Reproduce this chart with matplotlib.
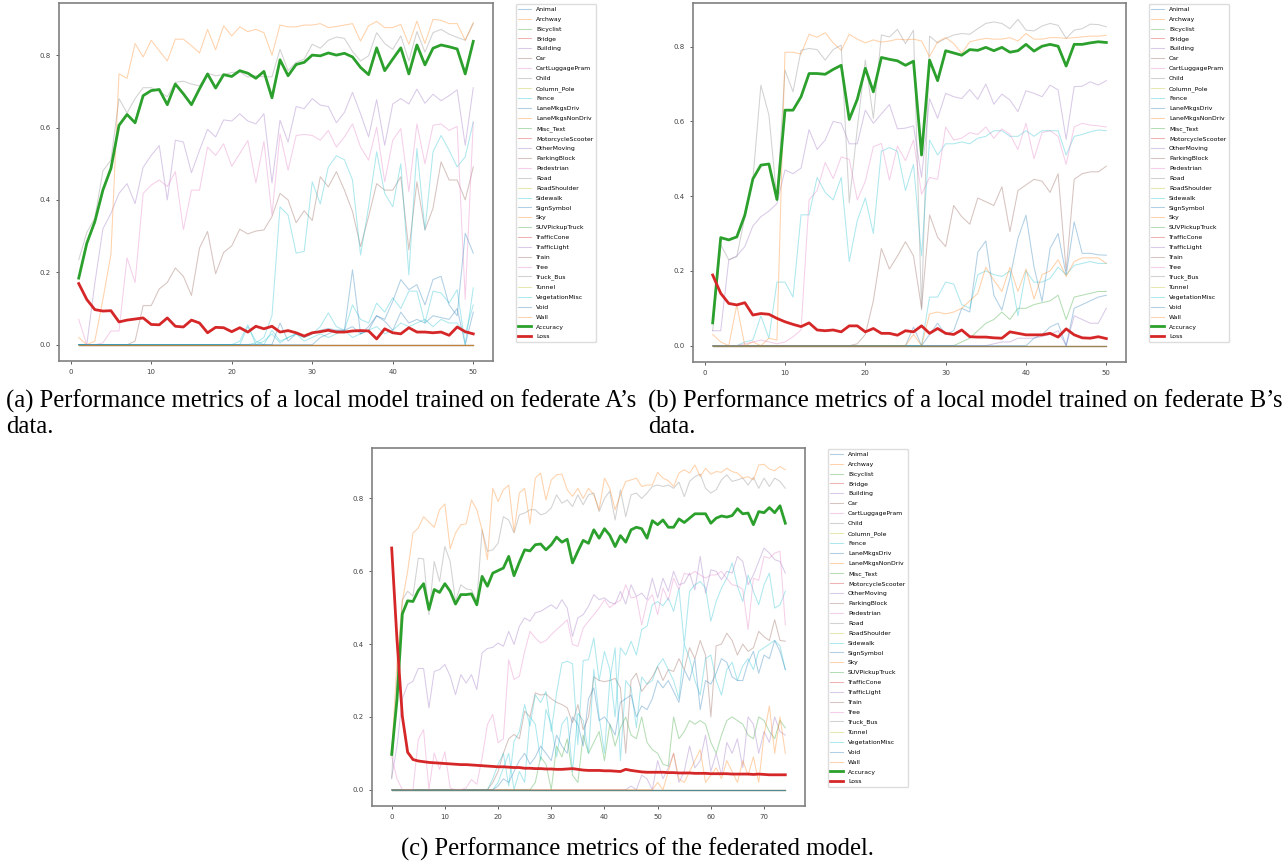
import matplotlib.pyplot as plt
import numpy as np

classes = ['Animal', 'Archway', 'Bicyclist', 'Bridge', 'Building', 'Car',
           'CartLuggagePram', 'Child', 'Column_Pole', 'Fence', 'LaneMkgsDriv',
           'LaneMkgsNonDriv', 'Misc_Text', 'MotorcycleScooter', 'OtherMoving',
           'ParkingBlock', 'Pedestrian', 'Road', 'RoadShoulder', 'Sidewalk',
           'SignSymbol', 'Sky', 'SUVPickupTruck', 'TrafficCone', 'TrafficLight',
           'Train', 'Tree', 'Truck_Bus', 'Tunnel', 'VegetationMisc', 'Void', 'Wall']

# ---- (a) local model, federate A ----
epochs_a = list(range(1, 51))
a_acc = [0.184, 0.28, 0.34, 0.427, 0.487, 0.606, 0.636, 0.613, 0.688, 0.702,
         0.705, 0.663, 0.72, 0.693, 0.663, 0.707, 0.748, 0.709, 0.746, 0.741,
         0.757, 0.75, 0.736, 0.755, 0.682, 0.787, 0.743, 0.774, 0.78, 0.8,
         0.798, 0.806, 0.8, 0.805, 0.795, 0.766, 0.746, 0.82, 0.757, 0.789,
         0.82, 0.748, 0.828, 0.773, 0.819, 0.828, 0.823, 0.817, 0.748, 0.838]
a_loss = [0.169, 0.125, 0.097, 0.093, 0.094, 0.063, 0.068, 0.071, 0.074, 0.056,
          0.055, 0.074, 0.051, 0.049, 0.068, 0.06, 0.033, 0.048, 0.047, 0.036,
          0.047, 0.035, 0.051, 0.044, 0.051, 0.035, 0.039, 0.033, 0.024, 0.033,
          0.036, 0.04, 0.035, 0.035, 0.038, 0.039, 0.038, 0.016, 0.044, 0.033,
          0.03, 0.047, 0.035, 0.035, 0.033, 0.035, 0.026, 0.049, 0.036, 0.03]
a_sky = [0.02, 0.0, 0.01, 0.125, 0.25, 0.748, 0.736, 0.832, 0.795, 0.841,
         0.812, 0.784, 0.844, 0.844, 0.826, 0.806, 0.871, 0.815, 0.881, 0.853,
         0.878, 0.865, 0.871, 0.862, 0.8, 0.883, 0.878, 0.878, 0.883, 0.883,
         0.887, 0.876, 0.879, 0.883, 0.887, 0.839, 0.881, 0.893, 0.876, 0.876,
         0.885, 0.83, 0.894, 0.832, 0.899, 0.896, 0.887, 0.887, 0.841, 0.89]
a_road = [0.235, 0.31, 0.35, 0.48, 0.51, 0.68, 0.64, 0.68, 0.71, 0.71,
          0.70, 0.685, 0.725, 0.728, 0.72, 0.715, 0.75, 0.743, 0.746, 0.752,
          0.754, 0.739, 0.743, 0.74, 0.74, 0.816, 0.757, 0.78, 0.789, 0.83,
          0.819, 0.841, 0.85, 0.846, 0.81, 0.784, 0.798, 0.862, 0.832, 0.816,
          0.853, 0.784, 0.865, 0.808, 0.862, 0.871, 0.858, 0.849, 0.841, 0.887]
a_building = [0.0, 0.0, 0.17, 0.32, 0.363, 0.418, 0.445, 0.39, 0.49, 0.523,
              0.55, 0.4, 0.565, 0.56, 0.475, 0.537, 0.595, 0.574, 0.621, 0.618,
              0.638, 0.618, 0.61, 0.638, 0.447, 0.62, 0.56, 0.658, 0.652, 0.68,
              0.662, 0.658, 0.613, 0.642, 0.697, 0.638, 0.574, 0.677, 0.551, 0.665,
              0.68, 0.665, 0.706, 0.667, 0.692, 0.674, 0.688, 0.704, 0.551, 0.71]
a_tree = [0.07, 0.0, 0.0, 0.005, 0.038, 0.038, 0.24, 0.172, 0.418, 0.441,
          0.455, 0.437, 0.478, 0.318, 0.427, 0.427, 0.546, 0.523, 0.555, 0.493,
          0.528, 0.564, 0.447, 0.562, 0.358, 0.583, 0.482, 0.578, 0.581, 0.578,
          0.565, 0.592, 0.546, 0.574, 0.61, 0.546, 0.51, 0.601, 0.45, 0.565,
          0.597, 0.423, 0.61, 0.5, 0.606, 0.61, 0.592, 0.603, 0.125, 0.615]
a_car = [0.0, 0.0, 0.0, 0.0, 0.0, 0.0, 0.0, 0.01, 0.108, 0.108,
         0.154, 0.172, 0.212, 0.189, 0.136, 0.267, 0.313, 0.196, 0.255, 0.273,
         0.319, 0.306, 0.314, 0.317, 0.354, 0.418, 0.4, 0.337, 0.37, 0.343,
         0.464, 0.436, 0.478, 0.427, 0.368, 0.271, 0.354, 0.445, 0.427, 0.427,
         0.464, 0.262, 0.45, 0.317, 0.377, 0.505, 0.455, 0.455, 0.4, 0.491]
a_sidewalk = [0.0] * 22 + [0.005, 0.02, 0.08, 0.381, 0.358, 0.253, 0.258, 0.45,
                           0.389, 0.491, 0.522, 0.511, 0.455, 0.248, 0.381, 0.533,
                           0.418, 0.381, 0.5, 0.193, 0.542, 0.317, 0.533, 0.578,
                           0.537, 0.491, 0.519, 0.615]
a_void = [0.0] * 30 + [0.02, 0.03, 0.04, 0.04, 0.207, 0.03, 0.05, 0.08, 0.07, 0.12,
                       0.18, 0.152, 0.166, 0.11, 0.18, 0.189, 0.11, 0.08, 0.308, 0.253]
a_veg = [0.0] * 20 + [0.01, 0.055, 0.0, 0.01, 0.03, 0.005, 0.02, 0.03, 0.02, 0.03,
                      0.05, 0.088, 0.05, 0.04, 0.11, 0.07, 0.06, 0.115, 0.09, 0.13,
                      0.1, 0.148, 0.148, 0.06, 0.148, 0.143, 0.115, 0.152, 0.0, 0.157]
a_sign = [0.0] * 25 + [0.06, 0.01, 0.03, 0.02, 0.03, 0.04, 0.045, 0.04, 0.04, 0.05,
                       0.03, 0.04, 0.08, 0.065, 0.04, 0.09, 0.06, 0.07, 0.06, 0.08,
                       0.075, 0.07, 0.1, 0.0, 0.09]
a_fence = [0.0] * 20 + [0.0, 0.05, 0.01, 0.0, 0.04, 0.01, 0.02, 0.03, 0.01, 0.02,
                        0.03, 0.02, 0.03, 0.04, 0.02, 0.03, 0.04, 0.05, 0.03, 0.04,
                        0.06, 0.05, 0.06, 0.07, 0.05, 0.07, 0.06, 0.06, 0.03, 0.11]

# ---- (b) local model, federate B ----
epochs_b = list(range(1, 51))
b_acc = [0.061, 0.289, 0.283, 0.291, 0.349, 0.446, 0.483, 0.486, 0.391, 0.63,
         0.63, 0.666, 0.728, 0.728, 0.726, 0.739, 0.75, 0.605, 0.659, 0.742,
         0.679, 0.771, 0.766, 0.762, 0.75, 0.761, 0.51, 0.764, 0.709, 0.789,
         0.783, 0.777, 0.792, 0.79, 0.798, 0.789, 0.798, 0.785, 0.789, 0.806,
         0.788, 0.801, 0.806, 0.801, 0.748, 0.806, 0.806, 0.81, 0.813, 0.811]
b_loss = [0.189, 0.14, 0.113, 0.109, 0.115, 0.082, 0.086, 0.084, 0.073, 0.064,
          0.057, 0.051, 0.061, 0.042, 0.04, 0.042, 0.037, 0.053, 0.053, 0.037,
          0.046, 0.033, 0.033, 0.028, 0.04, 0.037, 0.053, 0.033, 0.046, 0.033,
          0.03, 0.042, 0.024, 0.023, 0.023, 0.021, 0.02, 0.037, 0.033, 0.029,
          0.029, 0.029, 0.033, 0.023, 0.045, 0.029, 0.021, 0.02, 0.024, 0.019]
b_road = [0.04, 0.27, 0.23, 0.238, 0.345, 0.443, 0.697, 0.617, 0.39, 0.737,
          0.679, 0.79, 0.795, 0.792, 0.764, 0.792, 0.804, 0.382, 0.581, 0.764,
          0.608, 0.831, 0.826, 0.846, 0.808, 0.844, 0.095, 0.828, 0.81, 0.822,
          0.831, 0.835, 0.833, 0.848, 0.862, 0.866, 0.862, 0.848, 0.873, 0.844,
          0.842, 0.855, 0.862, 0.857, 0.822, 0.844, 0.848, 0.86, 0.859, 0.853]
b_sky = [0.03, 0.01, 0.0, 0.109, 0.0, 0.01, 0.0, 0.02, 0.015, 0.785,
         0.785, 0.78, 0.833, 0.825, 0.837, 0.81, 0.79, 0.833, 0.82, 0.81,
         0.818, 0.812, 0.815, 0.82, 0.818, 0.82, 0.815, 0.773, 0.813, 0.824,
         0.808, 0.782, 0.813, 0.818, 0.822, 0.82, 0.82, 0.824, 0.815, 0.835,
         0.82, 0.82, 0.824, 0.824, 0.822, 0.824, 0.826, 0.828, 0.828, 0.83]
b_building = [0.04, 0.04, 0.229, 0.24, 0.265, 0.32, 0.345, 0.36, 0.38, 0.47,
              0.46, 0.475, 0.578, 0.525, 0.55, 0.6, 0.595, 0.54, 0.54, 0.63,
              0.595, 0.62, 0.645, 0.58, 0.582, 0.588, 0.45, 0.661, 0.608, 0.675,
              0.666, 0.661, 0.685, 0.659, 0.7, 0.646, 0.673, 0.657, 0.626, 0.682,
              0.675, 0.666, 0.697, 0.684, 0.552, 0.693, 0.694, 0.706, 0.697, 0.709]
b_tree = [0.0, 0.0, 0.0, 0.0, 0.005, 0.01, 0.015, 0.01, 0.005, 0.01,
          0.024, 0.042, 0.39, 0.415, 0.49, 0.447, 0.505, 0.498, 0.39, 0.44,
          0.532, 0.541, 0.443, 0.534, 0.495, 0.55, 0.405, 0.45, 0.445, 0.585,
          0.55, 0.555, 0.57, 0.565, 0.585, 0.555, 0.58, 0.565, 0.525, 0.595,
          0.5, 0.57, 0.575, 0.56, 0.485, 0.585, 0.595, 0.59, 0.588, 0.585]
b_sidewalk = [0.0, 0.0, 0.0, 0.0, 0.01, 0.015, 0.08, 0.02, 0.17, 0.17,
              0.13, 0.35, 0.35, 0.45, 0.41, 0.39, 0.45, 0.225, 0.335, 0.395,
              0.3, 0.52, 0.53, 0.52, 0.415, 0.485, 0.24, 0.55, 0.51, 0.54,
              0.54, 0.545, 0.54, 0.555, 0.56, 0.575, 0.575, 0.56, 0.56, 0.575,
              0.56, 0.575, 0.575, 0.575, 0.51, 0.56, 0.565, 0.572, 0.577, 0.575]
b_car = [0.0] * 18 + [0.005, 0.03, 0.12, 0.26, 0.205, 0.24, 0.278, 0.24, 0.1, 0.35,
                      0.29, 0.265, 0.375, 0.345, 0.325, 0.395, 0.385, 0.375, 0.425, 0.305,
                      0.415, 0.43, 0.445, 0.44, 0.41, 0.46, 0.2, 0.445, 0.46, 0.465,
                      0.465, 0.48]
b_lanedriv = [0.0] * 25 + [0.05, 0.0, 0.03, 0.06, 0.03, 0.04, 0.1, 0.09, 0.25, 0.28,
                           0.135, 0.095, 0.18, 0.287, 0.349, 0.211, 0.118, 0.26, 0.3, 0.189,
                           0.331, 0.247, 0.247, 0.243, 0.242]
b_wall = [0.0] * 25 + [0.03, 0.0, 0.085, 0.09, 0.085, 0.09, 0.1, 0.12, 0.14, 0.21,
                       0.175, 0.145, 0.21, 0.145, 0.205, 0.125, 0.19, 0.2, 0.23, 0.185,
                       0.225, 0.235, 0.235, 0.235, 0.22]
b_veg = [0.0] * 26 + [0.0, 0.13, 0.13, 0.17, 0.165, 0.11, 0.1, 0.19, 0.2, 0.19,
                      0.185, 0.2, 0.08, 0.2, 0.17, 0.17, 0.18, 0.21, 0.19, 0.215,
                      0.22, 0.225, 0.22, 0.22]
b_bicyclist = [0.0] * 30 + [0.0, 0.01, 0.02, 0.04, 0.06, 0.07, 0.09, 0.07, 0.1, 0.1,
                            0.11, 0.115, 0.12, 0.135, 0.07, 0.13, 0.135, 0.14, 0.145, 0.145]
b_void = [0.0] * 40 + [0.02, 0.03, 0.05, 0.06, 0.0, 0.1, 0.11, 0.12, 0.13, 0.135]
b_otherm = [0.0] * 35 + [0.005, 0.01, 0.01, 0.02, 0.02, 0.02, 0.025, 0.03, 0.04, 0.0,
                         0.08, 0.07, 0.06, 0.06, 0.1]

# ---- (c) federated model ----
epochs_c = list(range(0, 75))
c_acc = [0.097, 0.248, 0.483, 0.519, 0.517, 0.547, 0.566, 0.495, 0.55, 0.542,
         0.566, 0.545, 0.51, 0.536, 0.536, 0.538, 0.508, 0.586, 0.559, 0.595,
         0.602, 0.609, 0.641, 0.588, 0.625, 0.659, 0.656, 0.673, 0.675, 0.659,
         0.673, 0.694, 0.68, 0.688, 0.623, 0.655, 0.685, 0.677, 0.714, 0.691,
         0.717, 0.699, 0.668, 0.698, 0.68, 0.714, 0.721, 0.717, 0.691, 0.739,
         0.728, 0.741, 0.721, 0.721, 0.744, 0.734, 0.746, 0.758, 0.758, 0.758,
         0.732, 0.746, 0.752, 0.749, 0.753, 0.772, 0.758, 0.76, 0.728, 0.764,
         0.761, 0.775, 0.761, 0.78, 0.732]
c_loss = [0.664, 0.412, 0.202, 0.103, 0.083, 0.079, 0.077, 0.075, 0.074, 0.073,
          0.072, 0.071, 0.07, 0.069, 0.069, 0.068, 0.067, 0.066, 0.065, 0.064,
          0.063, 0.063, 0.062, 0.061, 0.061, 0.059, 0.059, 0.058, 0.058, 0.057,
          0.057, 0.056, 0.056, 0.057, 0.058, 0.056, 0.054, 0.053, 0.053, 0.053,
          0.052, 0.052, 0.051, 0.05, 0.056, 0.053, 0.051, 0.049, 0.048, 0.048,
          0.048, 0.048, 0.047, 0.047, 0.046, 0.046, 0.046, 0.045, 0.045, 0.045,
          0.044, 0.044, 0.044, 0.044, 0.043, 0.043, 0.043, 0.043, 0.042, 0.043,
          0.042, 0.041, 0.041, 0.041, 0.041]
c_sky = [0.1, 0.35, 0.517, 0.6, 0.705, 0.719, 0.75, 0.735, 0.721, 0.769,
         0.785, 0.662, 0.705, 0.728, 0.73, 0.796, 0.769, 0.714, 0.632, 0.828,
         0.792, 0.824, 0.837, 0.708, 0.815, 0.828, 0.73, 0.856, 0.87, 0.796,
         0.851, 0.865, 0.867, 0.824, 0.806, 0.828, 0.8, 0.828, 0.81, 0.769,
         0.856, 0.828, 0.769, 0.81, 0.847, 0.851, 0.856, 0.833, 0.837, 0.837,
         0.872, 0.856, 0.849, 0.833, 0.87, 0.879, 0.87, 0.892, 0.86, 0.883,
         0.867, 0.874, 0.872, 0.883, 0.874, 0.87, 0.856, 0.86, 0.851, 0.892,
         0.894, 0.881, 0.876, 0.888, 0.879]
c_road = [0.03, 0.3, 0.522, 0.545, 0.532, 0.636, 0.634, 0.481, 0.627, 0.572,
          0.668, 0.627, 0.518, 0.563, 0.552, 0.549, 0.518, 0.714, 0.655, 0.659,
          0.677, 0.75, 0.741, 0.705, 0.755, 0.76, 0.769, 0.769, 0.755, 0.76,
          0.774, 0.81, 0.787, 0.796, 0.778, 0.81, 0.783, 0.81, 0.815, 0.764,
          0.8, 0.82, 0.741, 0.824, 0.75, 0.81, 0.815, 0.8, 0.815, 0.833,
          0.837, 0.833, 0.837, 0.828, 0.845, 0.805, 0.847, 0.86, 0.867, 0.828,
          0.815, 0.824, 0.851, 0.865, 0.847, 0.851, 0.856, 0.837, 0.858, 0.828,
          0.856, 0.833, 0.856, 0.847, 0.828]
c_building = [0.033, 0.12, 0.25, 0.289, 0.298, 0.333, 0.333, 0.225, 0.325, 0.33,
              0.344, 0.312, 0.261, 0.316, 0.293, 0.316, 0.275, 0.376, 0.388, 0.391,
              0.403, 0.394, 0.435, 0.399, 0.449, 0.472, 0.463, 0.486, 0.49, 0.499,
              0.508, 0.497, 0.522, 0.499, 0.421, 0.472, 0.481, 0.504, 0.536, 0.522,
              0.527, 0.515, 0.51, 0.545, 0.51, 0.563, 0.531, 0.54, 0.522, 0.581,
              0.527, 0.581, 0.545, 0.6, 0.563, 0.568, 0.595, 0.549, 0.641, 0.54,
              0.604, 0.6, 0.577, 0.6, 0.595, 0.641, 0.627, 0.563, 0.59, 0.627,
              0.664, 0.65, 0.632, 0.627, 0.595]
c_tree = [0.092, 0.03, 0.0, 0.0, 0.0, 0.138, 0.165, 0.0, 0.101, 0.056,
          0.104, 0.005, 0.0, 0.0, 0.005, 0.028, 0.015, 0.088, 0.179, 0.207,
          0.129, 0.14, 0.357, 0.303, 0.312, 0.38, 0.435, 0.417, 0.403, 0.41,
          0.426, 0.44, 0.453, 0.467, 0.399, 0.394, 0.444, 0.463, 0.481, 0.499,
          0.522, 0.5, 0.513, 0.52, 0.563, 0.527, 0.53, 0.453, 0.517, 0.536,
          0.481, 0.554, 0.52, 0.581, 0.55, 0.595, 0.59, 0.6, 0.59, 0.581,
          0.59, 0.59, 0.6, 0.58, 0.563, 0.56, 0.55, 0.44, 0.581, 0.575,
          0.641, 0.636, 0.65, 0.655, 0.453]
c_sidewalk = [0.0] * 19 + [0.03, 0.07, 0.1, 0.01, 0.133, 0.16, 0.234, 0.175, 0.261, 0.239,
                           0.27, 0.16, 0.266, 0.348, 0.353, 0.346, 0.124, 0.355, 0.357, 0.417,
                           0.3, 0.38, 0.33, 0.2, 0.39, 0.37, 0.408, 0.37, 0.44, 0.449,
                           0.508, 0.517, 0.505, 0.527, 0.49, 0.554, 0.399, 0.545, 0.563, 0.572,
                           0.554, 0.463, 0.517, 0.554, 0.581, 0.623, 0.559, 0.517, 0.59, 0.545,
                           0.508, 0.563, 0.595, 0.499, 0.508, 0.545]
c_fence = [0.0] * 20 + [0.02, 0.06, 0.1, 0.0, 0.05, 0.02, 0.2, 0.18, 0.08, 0.22,
                        0.18, 0.09, 0.18, 0.2, 0.05, 0.21, 0.19, 0.1, 0.33, 0.2,
                        0.1, 0.3, 0.39, 0.08, 0.3, 0.28, 0.17, 0.31, 0.29, 0.3,
                        0.34, 0.36, 0.33, 0.3, 0.25, 0.4, 0.36, 0.3, 0.26, 0.36,
                        0.37, 0.3, 0.26, 0.33, 0.35, 0.3, 0.34, 0.36, 0.33, 0.38,
                        0.39, 0.4, 0.41, 0.395, 0.33]
c_lanedriv = [0.0] * 20 + [0.01, 0.03, 0.02, 0.05, 0.08, 0.1, 0.07, 0.09, 0.12, 0.1,
                           0.08, 0.15, 0.12, 0.1, 0.2, 0.18, 0.12, 0.25, 0.28, 0.19,
                           0.2, 0.18, 0.15, 0.24, 0.25, 0.26, 0.2, 0.23, 0.22, 0.25,
                           0.3, 0.28, 0.3, 0.27, 0.24, 0.33, 0.3, 0.36, 0.22, 0.3,
                           0.29, 0.32, 0.36, 0.35, 0.31, 0.3, 0.3, 0.35, 0.38, 0.32,
                           0.37, 0.36, 0.41, 0.38, 0.33]
c_car = [0.0] * 19 + [0.02, 0.05, 0.1, 0.14, 0.152, 0.14, 0.216, 0.2, 0.266, 0.26,
                      0.263, 0.25, 0.24, 0.234, 0.225, 0.184, 0.234, 0.165, 0.2, 0.31,
                      0.3, 0.297, 0.3, 0.306, 0.28, 0.1, 0.3, 0.32, 0.27, 0.29,
                      0.31, 0.338, 0.3, 0.33, 0.325, 0.36, 0.33, 0.39, 0.36, 0.41,
                      0.37, 0.2, 0.395, 0.4, 0.43, 0.41, 0.37, 0.4, 0.38, 0.39,
                      0.435, 0.42, 0.41, 0.467, 0.41, 0.408]
c_bicyclist = [0.0] * 27 + [0.02, 0.09, 0.07, 0.0, 0.12, 0.09, 0.14, 0.04, 0.02, 0.15,
                            0.1, 0.13, 0.16, 0.08, 0.18, 0.12, 0.17, 0.2, 0.15, 0.14,
                            0.2, 0.13, 0.11, 0.1, 0.07, 0.065, 0.2, 0.14, 0.16, 0.19,
                            0.18, 0.19, 0.18, 0.13, 0.1, 0.15, 0.19, 0.2, 0.19, 0.18,
                            0.15, 0.14, 0.2, 0.19, 0.16, 0.14, 0.19, 0.17]
c_wall = [0.0] * 50 + [0.02, 0.0, 0.05, 0.1, 0.03, 0.02, 0.05, 0.08, 0.11, 0.02,
                       0.04, 0.06, 0.03, 0.08, 0.05, 0.02, 0.08, 0.04, 0.09, 0.02,
                       0.15, 0.23, 0.1, 0.2, 0.1]
c_otherm = [0.0] * 45 + [0.01, 0.0, 0.04, 0.03, 0.0, 0.08, 0.03, 0.06, 0.1, 0.02,
                         0.05, 0.12, 0.06, 0.08, 0.15, 0.05, 0.1, 0.04, 0.13, 0.1,
                         0.14, 0.06, 0.2, 0.18, 0.1, 0.16, 0.13, 0.2, 0.16, 0.15]

series_a = {'Sky': a_sky, 'Road': a_road, 'Building': a_building, 'Tree': a_tree,
            'Car': a_car, 'Sidewalk': a_sidewalk, 'Void': a_void,
            'VegetationMisc': a_veg, 'SignSymbol': a_sign, 'Fence': a_fence}
series_b = {'Sky': b_sky, 'Road': b_road, 'Building': b_building, 'Tree': b_tree,
            'Car': b_car, 'Sidewalk': b_sidewalk, 'LaneMkgsDriv': b_lanedriv,
            'Wall': b_wall, 'VegetationMisc': b_veg, 'Bicyclist': b_bicyclist,
            'Void': b_void, 'OtherMoving': b_otherm}
series_c = {'Sky': c_sky, 'Road': c_road, 'Building': c_building, 'Tree': c_tree,
            'Sidewalk': c_sidewalk, 'Fence': c_fence, 'LaneMkgsDriv': c_lanedriv,
            'Car': c_car, 'Bicyclist': c_bicyclist, 'Wall': c_wall,
            'OtherMoving': c_otherm}

W, H = 1283, 864
fig = plt.figure(figsize=(W / 100, H / 100), dpi=100)


def draw_panel(rect, x, series, acc, loss):
    ax = fig.add_axes(rect)
    zeros = [0.0] * len(x)
    for name in classes:
        ax.plot(x, series.get(name, zeros), lw=0.75, alpha=0.35, label=name)
    ax.plot(x, acc, color='tab:green', lw=2, label='Accuracy')
    ax.plot(x, loss, color='tab:red', lw=2, label='Loss')
    ax.set_yticks([0.0, 0.2, 0.4, 0.6, 0.8])
    ax.tick_params(labelsize=5, length=2.5, width=0.6, colors='#444444')
    for s in ax.spines.values():
        s.set_color('#808080')
        s.set_linewidth(1.2)
    ax.legend(loc='upper left', bbox_to_anchor=(1.05, 1.0), borderaxespad=0.2,
              fontsize=4.4, labelspacing=0.75, handlelength=2.1, handletextpad=0.8,
              borderpad=0.4, framealpha=1, edgecolor='#dddddd')
    return ax


def px_rect(x0, y0, x1, y1):
    return [x0 / W, 1 - y1 / H, (x1 - x0) / W, (y1 - y0) / H]


draw_panel(px_rect(59, 3, 493, 361), epochs_a, series_a, a_acc, a_loss)
draw_panel(px_rect(693, 3, 1126, 362), epochs_b, series_b, b_acc, b_loss)
draw_panel(px_rect(372, 448, 805, 806), epochs_c, series_c, c_acc, c_loss)

cap = dict(family='Liberation Serif', fontsize=17.7, va='center', ha='left')
fig.text(6 / W, 1 - 401 / H, '(a) Performance metrics of a local model trained on federate A\u2019s', **cap)
fig.text(6 / W, 1 - 427 / H, 'data.', **cap)
fig.text(648 / W, 1 - 401 / H, '(b) Performance metrics of a local model trained on federate B\u2019s', **cap)
fig.text(648 / W, 1 - 427 / H, 'data.', **cap)
fig.text(637 / W, 1 - 849 / H, '(c) Performance metrics of the federated model.',
         family='Liberation Serif', fontsize=17.7, va='center', ha='center')

fig.savefig('out.png', dpi=100)
